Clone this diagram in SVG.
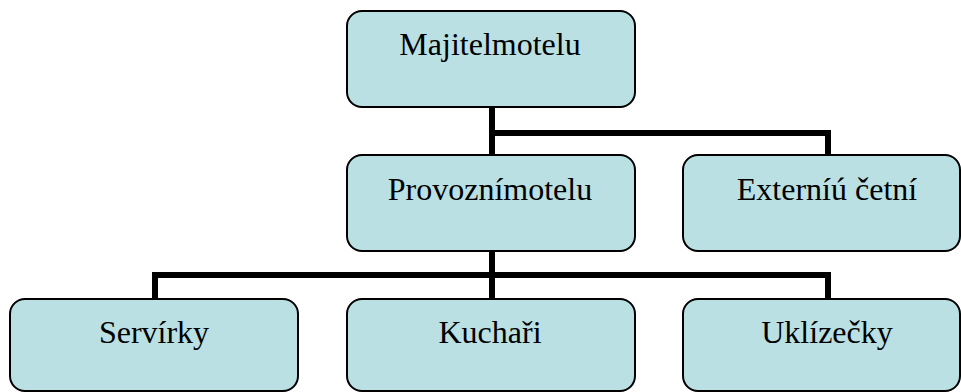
<svg xmlns="http://www.w3.org/2000/svg" width="961" height="392" viewBox="0 0 961 392">
<style>
.box{fill:#bae0e3;stroke:#000;stroke-width:2}
.lbl{font-family:"Liberation Serif","Times New Roman",serif;font-size:32px;fill:#000;text-anchor:middle}
.conn{fill:none;stroke:#000;stroke-width:6;stroke-linecap:butt;stroke-linejoin:miter}
</style>
<rect width="961" height="392" fill="#fff"/>
<g id="connectors">
<polyline class="conn" points="492,107 492,133 828,133 828,155"/>
<line class="conn" x1="492" y1="133" x2="492" y2="155"/>
<polyline class="conn" points="492,251 492,275 155,275 155,299"/>
<polyline class="conn" points="492,275 828,275 828,299"/>
<line class="conn" x1="492" y1="275" x2="492" y2="299"/>
</g>
<g id="majitel">
<rect class="box" x="347" y="11" width="288" height="96" rx="15"/>
<text class="lbl" x="490" y="55">Majitelmotelu</text>
</g>
<g id="provozni">
<rect class="box" x="347" y="155" width="288" height="96" rx="15"/>
<text class="lbl" x="490" y="200">Provozn&#237;motelu</text>
</g>
<g id="externi">
<rect class="box" x="683" y="155" width="277" height="96" rx="15"/>
<text class="lbl" x="827" y="200">Extern&#237;&#250; &#269;etn&#237;</text>
</g>
<g id="servirky">
<rect class="box" x="10" y="299" width="288" height="92" rx="15"/>
<text class="lbl" x="154" y="343">Serv&#237;rky</text>
</g>
<g id="kuchari">
<rect class="box" x="347" y="299" width="288" height="92" rx="15"/>
<text class="lbl" x="490" y="343">Kucha&#345;i</text>
</g>
<g id="uklizecky">
<rect class="box" x="683" y="299" width="277" height="92" rx="15"/>
<text class="lbl" x="827" y="343">Ukl&#237;ze&#269;ky</text>
</g>
</svg>
